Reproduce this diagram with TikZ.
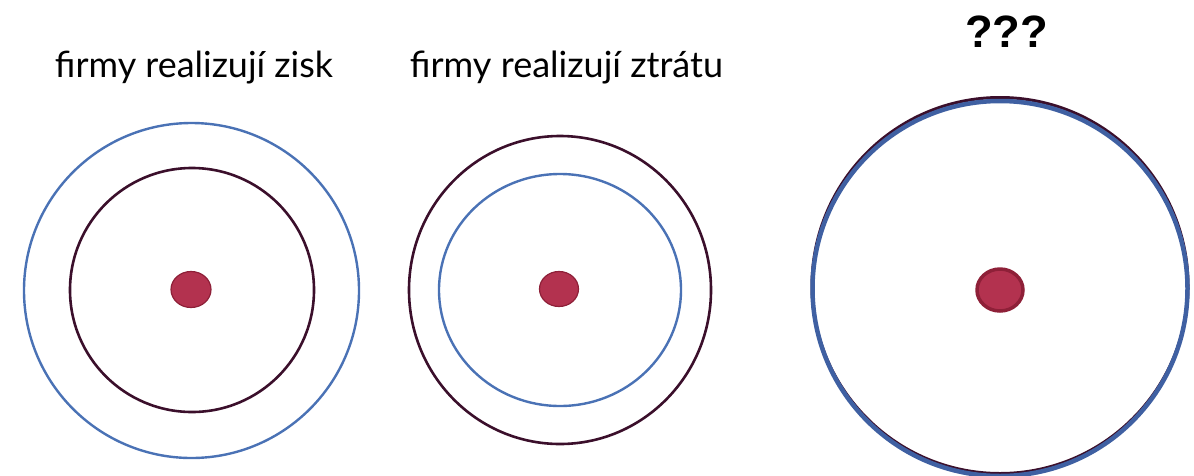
\documentclass[tikz,border=0pt]{standalone}
\usepackage{fontspec}
\setmainfont{Lato}
\newfontfamily\qfont{Liberation Sans}
\definecolor{ringblue}{HTML}{4A72B5}
\definecolor{ringdark}{HTML}{3B0F2B}
\definecolor{dotred}{HTML}{B3324F}
\definecolor{dotedge}{HTML}{8E2038}
\definecolor{bigblue}{HTML}{3F60A2}
\tikzset{
  blue ring/.style={draw=ringblue, line width=2.4pt},
  dark ring/.style={draw=ringdark, line width=2.6pt},
  dot/.style={fill=dotred, draw=dotedge, line width=1.2pt},
  label/.style={inner sep=0pt, anchor=base},
}
\begin{document}
\begin{tikzpicture}[x=1pt,y=-1pt]
\useasboundingbox (0,0) rectangle (1194,475);
% left group
\draw[blue ring] (191.5,290.5) circle (167.5);
\draw[dark ring] (192,290) circle (122);
\draw[dot] (191,289.5) ellipse (20 and 18);
\node[label] (t1) at (194,77) {\resizebox{278pt}{!}{firmy realizují zisk}};
% middle group
\draw[dark ring] (560,290) ellipse (151 and 154);
\draw[blue ring] (560,290) ellipse (121 and 116);
\draw[dot] (559,289) ellipse (19.5 and 17.5);
\node[label] (t2) at (566.5,77) {\resizebox{313pt}{!}{firmy realizují ztrátu}};
% right group
\draw[draw=ringdark, line width=3pt] (1000,285.5) circle (188);
\draw[draw=bigblue, line width=4.5pt] (1000,288.5) circle (187.5);
\draw[fill=dotred, draw=dotedge, line width=3.5pt] (1000,290) ellipse (23 and 21);
\node[label] (t3) at (1006.5,47) {\resizebox{83pt}{!}{\qfont\bfseries ???}};
\end{tikzpicture}
\end{document}
